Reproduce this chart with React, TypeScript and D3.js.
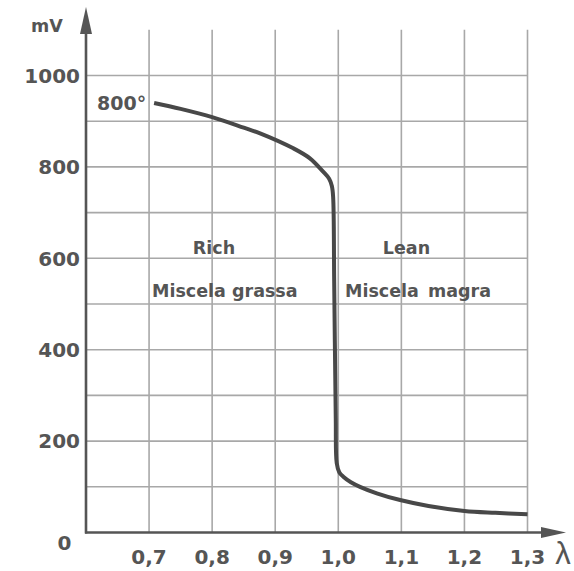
import React from "react";
import * as d3 from "d3";

const lambdaValues = [0.708, 0.75, 0.8, 0.85, 0.876, 0.9287, 0.955, 0.976, 0.9855, 0.9898, 0.9918, 0.9935, 0.996, 0.9975, 1.0015, 1.008, 1.02, 1.0344, 1.061, 1.098, 1.143, 1.2, 1.249, 1.3];
const mvValues = [940, 927, 909, 886, 873.5, 840.7, 818.8, 789.5, 774, 758, 735, 550, 250, 152, 132, 122, 110, 100, 85.8, 71, 58, 47, 43, 40];

const xTicks = [0.7, 0.8, 0.9, 1.0, 1.1, 1.2, 1.3];
const xTickLabels = ["0,7", "0,8", "0,9", "1,0", "1,1", "1,2", "1,3"];
const yTicks = [200, 400, 600, 800, 1000];
const yGrid = [100, 200, 300, 400, 500, 600, 700, 800, 900, 1000];

export default function App() {
  const W = 574, H = 571;
  const x = d3.scaleLinear().domain([0.6, 1.3]).range([86, 527.5]);
  const y = d3.scaleLinear().domain([0, 1000]).range([532.5, 75.5]);

  const pts: [number, number][] = lambdaValues.map((l, i) => [l, mvValues[i]]);
  const line = d3
    .line<[number, number]>()
    .x((d) => x(d[0]))
    .y((d) => y(d[1]))
    .curve(d3.curveCatmullRom.alpha(0.5));

  const font = "'DejaVu Sans', sans-serif";
  const textFill = "#555";
  const gridColor = "#a8a8a8";
  const axisColor = "#555";
  const x0 = x(0.6);
  const y0 = y(0);
  const yTop = y(1100);

  return (
    <svg width={W} height={H} style={{ position: "absolute", left: 0, top: 0, background: "#fff" }}>
      {/* vertical grid */}
      {xTicks.map((t) => (
        <line key={"vx" + t} x1={x(t)} x2={x(t)} y1={yTop} y2={y0} stroke={gridColor} strokeWidth={1.6} />
      ))}
      {/* horizontal grid */}
      {yGrid.map((t) => (
        <line key={"hy" + t} x1={x0} x2={x(1.3)} y1={y(t)} y2={y(t)} stroke={gridColor} strokeWidth={1.6} />
      ))}
      {/* axes */}
      <line x1={x0} x2={x0} y1={y0 + 1} y2={24} stroke={axisColor} strokeWidth={2.6} />
      <path d={`M${x0},7 L${x0 - 6},34 L${x0 + 6},34 Z`} fill={axisColor} />
      <line x1={x0 - 1} x2={548} y1={y0} y2={y0} stroke={axisColor} strokeWidth={2.6} />
      <path d={`M566,${y0} L541,${y0 - 5.5} L541,${y0 + 5.5} Z`} fill={axisColor} />

      {/* curve */}
      <path d={line(pts) || ""} fill="none" stroke="#484848" strokeWidth={4} strokeLinejoin="round" strokeLinecap="butt" />

      {/* y tick labels */}
      {yTicks.map((t) => (
        <text key={"yl" + t} x={80} y={y(t)} dy="0.36em" textAnchor="end" fontFamily={font} fontWeight="bold" fontSize={20} fill={textFill}>
          {t}
        </text>
      ))}
      <text x={64.5} y={543} dy="0.36em" textAnchor="middle" fontFamily={font} fontWeight="bold" fontSize={20} fill={textFill}>0</text>
      {/* x tick labels */}
      {xTicks.map((t, i) => (
        <text key={"xl" + t} x={x(t)} y={557} dy="0.36em" textAnchor="middle" fontFamily={font} fontWeight="bold" fontSize={20} fill={textFill}>
          {xTickLabels[i]}
        </text>
      ))}
      {/* axis titles */}
      <text x={31} y={32} textAnchor="start" fontFamily={font} fontWeight="bold" fontSize={17.5} fill={textFill}>mV</text>
      <text x={563} y={564} textAnchor="middle" fontFamily="'Liberation Sans', sans-serif" fontSize={31} fill={textFill}>λ</text>

      {/* annotations */}
      <text x={97} y={110} textAnchor="start" fontFamily={font} fontWeight="bold" fontSize={19} fill={textFill}>800°</text>
      <text x={214} y={254} textAnchor="middle" fontFamily={font} fontWeight="bold" fontSize={17.5} fill={textFill}>Rich</text>
      <text x={152} y={297} textAnchor="start" fontFamily={font} fontWeight="bold" fontSize={17.5} fill={textFill}>Miscela grassa</text>
      <text x={406.5} y={254} textAnchor="middle" fontFamily={font} fontWeight="bold" fontSize={17.5} fill={textFill}>Lean</text>
      <text x={345} y={297} textAnchor="start" fontFamily={font} fontWeight="bold" fontSize={17.5} fill={textFill} wordSpacing={3}>Miscela magra</text>
    </svg>
  );
}
